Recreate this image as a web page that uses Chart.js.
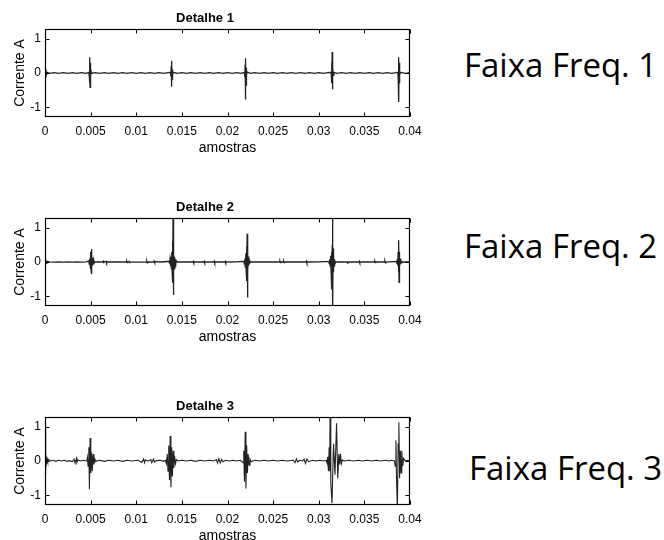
<!DOCTYPE html>
<html>
<head>
<meta charset="utf-8">
<script src="https://cdn.jsdelivr.net/npm/chart.js@4.4.1/dist/chart.umd.min.js"></script>
<style>
html,body{margin:0;padding:0;background:#fff;width:664px;height:540px;overflow:hidden;position:relative;}
canvas.panel{position:absolute;left:0;}
.faixa{position:absolute;font-family:"Open Sans",sans-serif;font-size:33px;line-height:1;color:#000;white-space:nowrap;}
</style>
</head>
<body>
<canvas id="c1" class="panel" width="440" height="160" style="top:0px"></canvas>
<canvas id="c2" class="panel" width="440" height="160" style="top:189px"></canvas>
<canvas id="c3" class="panel" width="440" height="160" style="top:388px"></canvas>
<div class="faixa" id="f1" style="left:464px;top:48px">Faixa Freq. 1</div>
<div class="faixa" id="f2" style="left:464px;top:229px">Faixa Freq. 2</div>
<div class="faixa" id="f3" style="left:469px;top:451px">Faixa Freq. 3</div>
<script>
// ---- data ----
const panelTitles = ['Detalhe 1', 'Detalhe 2', 'Detalhe 3'];
const sideLabels = ['Faixa Freq. 1', 'Faixa Freq. 2', 'Faixa Freq. 3'];
const xTitle = 'amostras';
const yTitle = 'Corrente A';
const xTickValues = [0, 0.005, 0.01, 0.015, 0.02, 0.025, 0.03, 0.035, 0.04];
const xTickLabels = ['0', '0.005', '0.01', '0.015', '0.02', '0.025', '0.03', '0.035', '0.04'];
const yTickValues = [-1, 0, 1];
const yTickLabels = ['-1', '0', '1'];

const detalhe1 = [
 [0,0],[0.00008,0.12],[0.00015,-0.06],[0.00025,0.02],[0.0005,-0.01],[0.001,0.012],[0.0015,-0.01],[0.002,0.01],[0.0025,-0.012],[0.003,0.01],[0.0035,-0.01],[0.004,0.012],[0.0045,-0.01],
 [0.0048,0.02],[0.00485,-0.08],[0.00488,0.18],[0.0049,-0.28],[0.00492,0.46],[0.00494,-0.42],[0.00496,0.3],[0.00498,-0.2],[0.005,0.12],[0.00503,-0.07],[0.00507,0.03],[0.0051,-0.01],
 [0.0055,0.01],[0.006,-0.012],[0.0065,0.01],[0.007,-0.01],[0.0075,0.012],[0.008,-0.01],[0.0085,0.01],[0.009,-0.012],[0.0095,0.01],[0.01,-0.01],[0.0105,0.012],[0.011,-0.01],[0.0115,0.01],[0.012,-0.012],[0.0125,0.01],[0.013,-0.01],[0.0135,0.01],
 [0.01375,0.02],[0.0138,-0.1],[0.01383,0.2],[0.01385,-0.3],[0.01387,0.36],[0.01389,-0.4],[0.01391,0.25],[0.01393,-0.18],[0.01396,0.1],[0.014,-0.05],[0.01405,0.02],
 [0.0145,-0.01],[0.015,0.012],[0.0155,-0.01],[0.016,0.01],[0.0165,-0.012],[0.017,0.01],[0.0175,-0.01],[0.018,0.012],[0.0185,-0.01],[0.019,0.01],[0.0195,-0.012],[0.02,0.01],[0.0205,-0.01],[0.021,0.012],[0.0215,-0.01],
 [0.02185,0.02],[0.0219,-0.12],[0.02193,0.25],[0.02195,-0.4],[0.02197,0.43],[0.02199,-0.77],[0.02201,0.3],[0.02203,-0.35],[0.02206,0.15],[0.0221,-0.08],[0.02215,0.03],
 [0.0225,-0.01],[0.023,0.012],[0.0235,-0.01],[0.024,0.01],[0.0245,-0.012],[0.025,0.01],[0.0255,-0.01],[0.026,0.012],[0.0265,-0.01],[0.027,0.01],[0.0275,-0.012],[0.028,0.01],[0.0285,-0.01],[0.029,0.012],[0.0295,-0.01],[0.03,0.01],[0.0305,-0.012],[0.031,0.01],
 [0.03135,0.02],[0.0314,-0.12],[0.03143,0.3],[0.03145,-0.3],[0.03147,0.61],[0.03149,-0.47],[0.03151,0.4],[0.03153,-0.25],[0.03156,0.15],[0.0316,-0.07],[0.03165,0.02],
 [0.032,-0.01],[0.0325,0.012],[0.033,-0.01],[0.0335,0.01],[0.034,-0.012],[0.0345,0.01],[0.035,-0.01],[0.0355,0.012],[0.036,-0.01],[0.0365,0.01],[0.037,-0.012],[0.0375,0.01],[0.038,-0.01],[0.0385,0.01],
 [0.03866,0.02],[0.0387,-0.12],[0.03873,0.25],[0.03875,-0.45],[0.03877,0.46],[0.03879,-0.84],[0.03881,0.3],[0.03883,-0.3],[0.03886,0.12],[0.0389,-0.06],[0.03895,0.02],[0.0395,-0.01],[0.04,0.01]
];

const detalhe2 = [
 [0,0.05],[0.00005,-0.06],[0.0001,0.07],[0.00015,-0.04],[0.0002,0.02],[0.0005,0.005],[0.001,-0.005],[0.0015,0.005],[0.002,-0.005],[0.0025,0.005],[0.003,-0.005],[0.0035,0.005],[0.004,-0.005],[0.0045,0.005],
 [0.0048,0.03],[0.00485,-0.06],[0.0049,0.1],[0.00495,-0.12],[0.00498,0.2],[0.005,-0.2],[0.00503,0.3],[0.00506,-0.28],[0.00508,0.38],[0.0051,-0.35],[0.00512,0.25],[0.00515,-0.18],[0.00518,0.12],[0.00522,-0.1],[0.00526,0.07],[0.0053,-0.05],[0.00535,0.04],[0.0054,-0.02],[0.0055,0.005],
 [0.0062,0],[0.00635,0.02],[0.0064,-0.02],[0.00645,0.015],[0.0065,0],[0.0067,0.02],[0.00675,-0.02],[0.0068,0.01],[0.0069,0],[0.008,0.005],[0.0089,0],[0.00895,0.02],[0.009,-0.02],[0.00905,0],[0.0092,0.02],[0.00925,-0.02],[0.0093,0],
 [0.0105,-0.005],[0.0111,0],[0.01115,0.025],[0.0112,-0.025],[0.01125,0],[0.0119,0],[0.01195,0.025],[0.012,-0.025],[0.01205,0.01],[0.0128,0],
 [0.0136,0.02],[0.01365,-0.05],[0.0137,0.08],[0.01375,-0.12],[0.0138,0.15],[0.01385,-0.2],[0.0139,0.3],[0.01395,-0.4],[0.01398,0.6],[0.014,-0.6],[0.01403,1.4],[0.01405,-0.96],[0.01408,0.5],[0.0141,-0.4],[0.01413,0.25],[0.01416,-0.2],[0.0142,0.15],[0.01425,-0.12],[0.0143,0.08],[0.01435,-0.06],[0.0144,0.03],[0.0145,0],
 [0.0155,0.005],[0.0162,0],[0.01625,0.02],[0.0163,-0.02],[0.01635,0],[0.0174,0],[0.01745,0.02],[0.0175,-0.02],[0.01755,0],[0.0185,0],[0.01855,0.025],[0.0186,-0.025],[0.01865,0],[0.0197,0],[0.01975,0.02],[0.0198,-0.02],[0.01985,0],[0.021,0.005],
 [0.0218,0.02],[0.02185,-0.06],[0.0219,0.1],[0.02195,-0.15],[0.022,0.25],[0.02205,-0.3],[0.02209,0.45],[0.02212,-0.55],[0.02215,0.82],[0.02218,-1.03],[0.02221,0.35],[0.02224,-0.3],[0.02228,0.15],[0.02232,-0.1],[0.02237,0.06],[0.02243,-0.03],[0.0225,0],
 [0.024,0.005],[0.0257,0],[0.02575,0.02],[0.0258,-0.02],[0.02585,0],[0.0261,0],[0.02615,0.02],[0.0262,-0.02],[0.02625,0],[0.0286,0],[0.02865,0.025],[0.0287,-0.025],[0.02875,0],[0.03,0.005],
 [0.0311,0.02],[0.03115,-0.05],[0.0312,0.08],[0.03125,-0.12],[0.0313,0.18],[0.03135,-0.25],[0.0314,0.3],[0.03144,-0.8],[0.03148,0.5],[0.03151,1.4],[0.03154,-1.4],[0.03157,0.4],[0.0316,-0.3],[0.03164,0.18],[0.03168,-0.12],[0.03173,0.08],[0.0318,-0.04],[0.0319,0],
 [0.0331,0],[0.03315,0.02],[0.0332,-0.02],[0.03325,0],[0.0344,0],[0.03445,0.02],[0.0345,-0.02],[0.03455,0],[0.0361,0],[0.03615,0.02],[0.0362,-0.02],[0.03625,0],[0.0372,0],[0.03725,0.025],[0.0373,-0.025],[0.03735,0],
 [0.0385,0.02],[0.03855,-0.05],[0.0386,0.08],[0.03865,-0.1],[0.0387,0.3],[0.03874,-0.3],[0.03877,0.63],[0.0388,-0.59],[0.03883,0.3],[0.03887,-0.15],[0.03892,0.1],[0.03897,-0.06],[0.03903,0.03],[0.0391,0],[0.0395,0.005],[0.04,0]
];

const detalhe3 = [
 [0,0.95],[0.00004,-0.35],[0.0001,0.12],[0.00016,-0.06],[0.00022,0.08],[0.0003,-0.02],[0.0004,0.04],[0.0006,0.0],[0.0009,0.02],[0.0012,-0.01],[0.0015,0.02],[0.0018,0.0],[0.0021,0.02],[0.0024,-0.01],[0.0027,0.01],[0.003,-0.02],[0.0032,0.05],[0.0033,-0.06],[0.00345,0.08],[0.0035,-0.04],[0.0036,0.03],[0.0039,0.0],[0.0042,0.02],[0.0045,0.0],
 [0.0046,0.01],[0.00465,0.1],[0.00472,-0.15],[0.0048,0.4],[0.00487,-0.82],[0.00494,0.67],[0.00502,-0.35],[0.0051,0.25],[0.00518,-0.3],[0.00527,0.2],[0.00536,-0.1],[0.00546,0.06],[0.00558,-0.02],[0.0057,0.01],
 [0.006,0.02],[0.0065,-0.01],[0.007,0.02],[0.0075,0.0],[0.008,0.02],[0.0085,-0.01],[0.009,0.02],[0.0095,0.0],[0.0102,0.02],[0.0106,-0.04],[0.0108,0.06],[0.0109,-0.05],[0.011,0.03],[0.0113,0.0],[0.0116,0.04],[0.0117,-0.05],[0.0119,0.06],[0.012,-0.03],[0.0122,0.01],[0.0126,0.02],[0.013,-0.01],
 [0.0132,0.02],[0.0133,-0.08],[0.0134,0.2],[0.01348,-0.3],[0.01356,0.45],[0.01364,-0.55],[0.01372,0.73],[0.0138,-0.76],[0.01388,0.4],[0.01396,-0.45],[0.01404,0.3],[0.01412,-0.2],[0.0142,0.15],[0.0143,-0.08],[0.0144,0.04],[0.0146,0.0],
 [0.015,0.02],[0.0155,0.0],[0.016,0.02],[0.0165,-0.01],[0.017,0.02],[0.0175,0.0],[0.018,0.02],[0.0185,0.0],[0.0188,0.04],[0.0189,-0.06],[0.01905,0.07],[0.0192,-0.06],[0.01935,0.05],[0.0195,-0.02],[0.0198,0.02],[0.0202,0.0],[0.0206,0.02],[0.021,0.0],[0.0214,0.02],
 [0.0217,-0.05],[0.02178,0.3],[0.02186,-0.6],[0.02194,0.85],[0.02202,-0.8],[0.0221,0.45],[0.02218,-0.35],[0.02226,0.2],[0.02236,-0.12],[0.02246,0.06],[0.0226,-0.02],
 [0.023,0.02],[0.0235,0.0],[0.024,0.02],[0.0245,0.0],[0.025,0.02],[0.0255,0.0],[0.026,0.02],[0.0265,0.0],[0.0272,0.02],[0.0274,-0.05],[0.02755,0.06],[0.0277,-0.03],[0.0279,0.02],[0.0282,0.0],[0.0284,0.05],[0.02855,-0.07],[0.0287,0.06],[0.0289,-0.02],[0.0293,0.02],[0.0297,0.0],[0.0301,0.02],[0.0305,0.0],
 [0.0308,0.02],[0.0309,-0.05],[0.03098,0.12],[0.03106,-0.3],[0.03114,0.4],[0.0312,-0.3],[0.03124,1.4],[0.03132,-0.65],[0.03145,-1.23],[0.03162,0.5],[0.03178,-0.4],[0.03195,1.1],[0.03208,-0.5],[0.0322,0.2],[0.0323,-0.1],[0.03238,0.22],[0.03248,-0.08],[0.0326,0.03],[0.0328,0.0],
 [0.0333,0.02],[0.0338,0.0],[0.0343,0.02],[0.0348,0.0],[0.0353,0.02],[0.0358,0.0],[0.0363,0.02],[0.0368,0.0],[0.0373,0.02],[0.0377,0.0],[0.038,0.02],
 [0.0383,0.0],[0.03838,-0.15],[0.03846,0.6],[0.03852,-0.5],[0.03862,-1.4],[0.0387,0.5],[0.03878,1.13],[0.03886,-0.5],[0.03894,0.3],[0.03902,-0.35],[0.0391,0.3],[0.0392,-0.15],[0.0393,0.08],[0.0395,0.0],[0.0397,0.02],[0.04,0.0]
];

const panels = [detalhe1, detalhe2, detalhe3];
const FONT = '"Liberation Sans", Arial, Helvetica, sans-serif';

const boxTicks = {
  id: 'boxTicks',
  afterDraw(chart) {
    const ctx = chart.ctx;
    const a = chart.chartArea;
    const L = Math.round(a.left) + 0.5, R = Math.round(a.right) - 0.5;
    const T = Math.round(a.top) + 0.5, B = Math.round(a.bottom) - 0.5;
    ctx.save();
    ctx.strokeStyle = '#000';
    ctx.lineWidth = 1;
    ctx.beginPath();
    chart.scales.x.ticks.forEach(t => {
      const px = Math.round(chart.scales.x.getPixelForValue(t.value)) + 0.5;
      ctx.moveTo(px, B); ctx.lineTo(px, B - 4);
      ctx.moveTo(px, T); ctx.lineTo(px, T + 4);
    });
    chart.scales.y.ticks.forEach(t => {
      const py = Math.round(chart.scales.y.getPixelForValue(t.value)) + 0.5;
      ctx.moveTo(L, py); ctx.lineTo(L + 4, py);
      ctx.moveTo(R, py); ctx.lineTo(R - 4, py);
    });
    ctx.stroke();
    ctx.lineWidth = 1.2;
    ctx.strokeRect(L, T, R - L, B - T);
    ctx.restore();
  }
};

panels.forEach((pts, i) => {
  new Chart(document.getElementById('c' + (i + 1)), {
    type: 'line',
    data: {
      datasets: [{
        data: pts.map(p => ({x: p[0], y: p[1]})),
        borderColor: '#222',
        borderWidth: i === 2 ? 1.1 : 1.3,
        pointRadius: 0,
        tension: 0,
        fill: false
      }]
    },
    options: {
      responsive: false,
      animation: false,
      events: [],
      layout: {padding: {left: 0, right: 30, top: 0, bottom: 0}},
      plugins: {
        legend: {display: false},
        tooltip: {enabled: false},
        title: {
          display: true,
          text: panelTitles[i],
          color: '#000',
          font: {family: FONT, size: 13, weight: 'bold'},
          padding: {top: 11, bottom: 2.4}
        }
      },
      scales: {
        x: {
          type: 'linear', min: 0, max: 0.04,
          afterBuildTicks: s => { s.ticks = xTickValues.map(v => ({value: v})); },
          afterFit: s => { s.height = 43; },
          ticks: {
            color: '#000', font: {family: FONT, size: 12}, padding: 7,
            maxRotation: 0, autoSkip: false,
            callback: (v, idx) => xTickLabels[idx]
          },
          grid: {display: false, drawTicks: false},
          border: {display: false},
          title: {display: true, text: xTitle, color: '#000', font: {family: FONT, size: 14}, padding: {top: 0, bottom: 3.6}}
        },
        y: {
          type: 'linear', min: -1.28, max: 1.28,
          afterBuildTicks: s => { s.ticks = yTickValues.map(v => ({value: v})); },
          afterFit: s => { s.width = 45; },
          ticks: {
            color: '#000', font: {family: FONT, size: 12}, padding: 4,
            autoSkip: false,
            callback: (v, idx) => yTickLabels[idx]
          },
          grid: {display: false, drawTicks: false},
          border: {display: false},
          title: {display: true, text: yTitle, color: '#000', font: {family: FONT, size: 14}, padding: {top: 11.6, bottom: 0}}
        }
      }
    },
    plugins: [boxTicks]
  });
});
</script>
</body>
</html>
